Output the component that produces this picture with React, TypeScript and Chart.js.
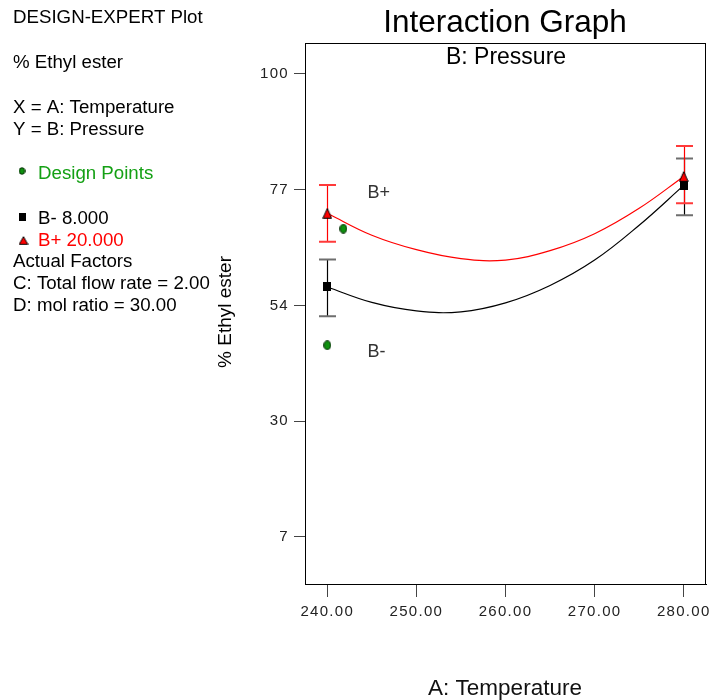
import React, { useEffect, useRef } from "react";
import { Chart, registerables } from "chart.js";

Chart.register(...registerables);

// ---- data ----
const temperatures = [240, 245, 250, 255, 260, 265, 270, 275, 280];
const bMinusCurve = [57.2, 54.1, 52.4, 52.2, 54.0, 57.5, 62.6, 69.6, 77.6];
const bPlusCurve = [72.0, 67.6, 64.7, 62.9, 62.6, 64.5, 67.9, 73.0, 79.4];

const meanTemps = [240, 280];
const bMinusMeans = [57.2, 77.6];
const bMinusLow = [51.3, 71.6];
const bMinusHigh = [62.7, 83.0];
const bPlusMeans = [72.0, 79.4];
const bPlusLow = [66.3, 74.0];
const bPlusHigh = [77.7, 85.5];

const designTemps = [241.8, 240];
const designValues = [68.9, 45.5];

const xTicks = [240, 250, 260, 270, 280];
const yTicks = [7, 30.25, 53.5, 76.75, 100];

const infoLines = [
  "DESIGN-EXPERT Plot",
  "% Ethyl ester",
  "X = A: Temperature",
  "Y = B: Pressure",
  "Design Points",
  "B- 8.000",
  "B+ 20.000",
  "Actual Factors",
  "C: Total flow rate = 2.00",
  "D: mol ratio = 30.00",
];

const FONT = "'Liberation Sans', Arial, sans-serif";

function makeTriangle(w: number, h: number) {
  const c = document.createElement("canvas");
  c.width = w;
  c.height = h;
  const g = c.getContext("2d")!;
  g.beginPath();
  g.moveTo(w / 2, 0.7);
  g.lineTo(w - 0.7, h - 0.7);
  g.lineTo(0.7, h - 0.7);
  g.closePath();
  g.fillStyle = "#ff0000";
  g.fill();
  g.strokeStyle = "#000";
  g.lineWidth = 1;
  g.stroke();
  return c;
}

function makeRect(w: number, h: number) {
  const c = document.createElement("canvas");
  c.width = w;
  c.height = h;
  const g = c.getContext("2d")!;
  g.fillStyle = "#000";
  g.fillRect(0, 0, w, h);
  return c;
}

function makeDot(w: number, h: number) {
  const c = document.createElement("canvas");
  c.width = w;
  c.height = h;
  const g = c.getContext("2d")!;
  g.beginPath();
  g.ellipse(w / 2, h / 2, w / 2 - 0.7, h / 2 - 0.7, 0, 0, Math.PI * 2);
  g.fillStyle = "#0f900f";
  g.fill();
  g.strokeStyle = "#002800";
  g.lineWidth = 1;
  g.stroke();
  return c;
}

export default function App() {
  const ref = useRef<HTMLCanvasElement | null>(null);

  useEffect(() => {
    if (!ref.current) return;
    const tri = makeTriangle(10, 11);
    const sq = makeRect(8, 9);
    const dot = makeDot(8, 10);
    const triSmall = makeTriangle(10, 9);
    const sqSmall = makeRect(7, 8);
    const dotSmall = makeDot(7, 8);

    const decor = {
      id: "decor",
      beforeDraw(chart: any) {
        const ctx = chart.ctx;
        ctx.save();
        ctx.fillStyle = "#ffffff";
        ctx.fillRect(0, 0, chart.width, chart.height);
        ctx.restore();
        ctx.letterSpacing = "1.3px";
      },
      beforeDatasetsDraw(chart: any) {
        const ctx = chart.ctx;
        ctx.letterSpacing = "0px";
        const xs = chart.scales.x;
        const ys = chart.scales.y;
        const bar = (t: number, lo: number, hi: number, lineColor: string, capColor: string) => {
          const px = Math.round(xs.getPixelForValue(t)) + 0.5;
          const p1 = ys.getPixelForValue(hi);
          const p2 = ys.getPixelForValue(lo);
          ctx.save();
          ctx.strokeStyle = lineColor;
          ctx.lineWidth = 1.2;
          ctx.beginPath();
          ctx.moveTo(px, p1);
          ctx.lineTo(px, p2);
          ctx.stroke();
          ctx.strokeStyle = capColor;
          ctx.lineWidth = 2;
          ctx.beginPath();
          ctx.moveTo(px - 8.5, p1);
          ctx.lineTo(px + 8.5, p1);
          ctx.moveTo(px - 8.5, p2);
          ctx.lineTo(px + 8.5, p2);
          ctx.stroke();
          ctx.restore();
        };
        meanTemps.forEach((t, i) => bar(t, bMinusLow[i], bMinusHigh[i], "#000", "#6e6e6e"));
        meanTemps.forEach((t, i) => bar(t, bPlusLow[i], bPlusHigh[i], "#ff0000", "#ff3a3a"));
      },
      afterDraw(chart: any) {
        const ctx = chart.ctx;
        const a = chart.chartArea;
        const xs = chart.scales.x;
        const ys = chart.scales.y;
        ctx.save();
        ctx.letterSpacing = "0px";
        // plot frame
        ctx.strokeStyle = "#000";
        ctx.lineWidth = 1;
        ctx.strokeRect(a.left + 0.5, a.top + 0.5, a.right - a.left - 1, a.bottom - a.top);

        // titles
        ctx.fillStyle = "#000";
        ctx.textAlign = "center";
        ctx.textBaseline = "alphabetic";
        ctx.font = `31.5px ${FONT}`;
        ctx.fillText("Interaction Graph", 505, 32);
        ctx.font = `23px ${FONT}`;
        ctx.fillText("B: Pressure", 506, 64);
        ctx.fillStyle = "#111";
        ctx.font = `22.5px ${FONT}`;
        ctx.fillText("A: Temperature", 505, 695);

        // y axis title
        ctx.save();
        ctx.translate(226, 312);
        ctx.rotate(-Math.PI / 2);
        ctx.font = `19px ${FONT}`;
        ctx.textBaseline = "middle";
        ctx.fillStyle = "#000";
        ctx.fillText("% Ethyl ester", 0, 0);
        ctx.restore();

        // in-plot labels
        ctx.font = `18px ${FONT}`;
        ctx.fillStyle = "#333";
        ctx.textAlign = "left";
        ctx.textBaseline = "middle";
        ctx.fillText("B+", xs.getPixelForValue(244.5), ys.getPixelForValue(76.1));
        ctx.fillText("B-", xs.getPixelForValue(244.5), ys.getPixelForValue(44.1));

        // info block
        ctx.textBaseline = "alphabetic";
        ctx.font = `18.7px ${FONT}`;
        const base = [23, 68, 113, 134.5, 179, 224, 245.5, 267, 289, 310.5];
        infoLines.forEach((txt, i) => {
          let x = 13;
          let color = "#000";
          if (i === 4) { x = 38; color = "#14a014"; }
          if (i === 5) { x = 38; }
          if (i === 6) { x = 38; color = "#ff0000"; }
          ctx.fillStyle = color;
          ctx.fillText(txt, x, base[i]);
        });
        ctx.drawImage(dotSmall, 22 - 3.5, 171 - 4);
        ctx.drawImage(sqSmall, 22 - 3.5, 216.5 - 4);
        ctx.drawImage(triSmall, 23.5 - 5, 240.5 - 4.5);
        ctx.restore();
      },
    };

    const chart = new Chart(ref.current, {
      type: "scatter",
      data: {
        datasets: [
          {
            label: "B- 8.000",
            data: temperatures.map((t, i) => ({ x: t, y: bMinusCurve[i] })),
            showLine: true,
            borderColor: "#000",
            borderWidth: 1.2,
            pointRadius: 0,
            tension: 0.4,
            order: 5,
          },
          {
            label: "B+ 20.000",
            data: temperatures.map((t, i) => ({ x: t, y: bPlusCurve[i] })),
            showLine: true,
            borderColor: "#ff0000",
            borderWidth: 1.2,
            pointRadius: 0,
            tension: 0.4,
            order: 4,
          },
          {
            label: "Design Points",
            data: designTemps.map((t, i) => ({ x: t, y: designValues[i] })),
            pointStyle: dot as any,
            pointRadius: 5,
            order: 3,
          },
          {
            label: "B- means",
            data: meanTemps.map((t, i) => ({ x: t, y: bMinusMeans[i] })),
            pointStyle: sq as any,
            pointRadius: 5,
            order: 2,
          },
          {
            label: "B+ means",
            data: meanTemps.map((t, i) => ({ x: t, y: bPlusMeans[i] })),
            pointStyle: tri as any,
            pointRadius: 5,
            order: 1,
          },
        ],
      },
      options: {
        responsive: false,
        animation: false,
        devicePixelRatio: 1,
        layout: { padding: { top: 43, right: 5, left: 0, bottom: 56 } },
        plugins: {
          legend: { display: false },
          tooltip: { enabled: false },
          title: { display: false },
        },
        scales: {
          x: {
            type: "linear",
            min: 237.5,
            max: 282.5,
            afterBuildTicks: (s: any) => {
              s.ticks = xTicks.map((v) => ({ value: v }));
            },
            afterFit: (s: any) => {
              s.height = 60;
              s.paddingLeft = 0;
              s.paddingRight = 0;
            },
            grid: { drawOnChartArea: false, drawTicks: true, tickLength: 13, color: "#444" },
            border: { display: true, color: "#000", width: 1 },
            ticks: {
              padding: 6,
              color: "#222",
              font: { family: FONT, size: 15 },
              maxRotation: 0,
              autoSkip: false,
              callback: (v: any) => Number(v).toFixed(2),
            },
          },
          y: {
            type: "linear",
            min: -2.45,
            max: 106.2,
            afterBuildTicks: (s: any) => {
              s.ticks = yTicks.map((v) => ({ value: v }));
            },
            afterFit: (s: any) => {
              s.width = 305;
              s.paddingTop = 0;
              s.paddingBottom = 0;
            },
            grid: { drawOnChartArea: false, drawTicks: true, tickLength: 11, color: "#444" },
            border: { display: true, color: "#000", width: 1 },
            ticks: {
              padding: 5,
              color: "#222",
              font: { family: FONT, size: 15 },
              autoSkip: false,
              callback: (v: any) => String(Math.round(Number(v))),
            },
          },
        },
      },
      plugins: [decor],
    } as any);

    return () => chart.destroy();
  }, []);

  return (
    <div style={{ position: "absolute", left: 0, top: 0, width: 712, height: 700, background: "#fff" }}>
      <canvas ref={ref} width={712} height={700} style={{ width: 712, height: 700, display: "block" }} />
    </div>
  );
}
